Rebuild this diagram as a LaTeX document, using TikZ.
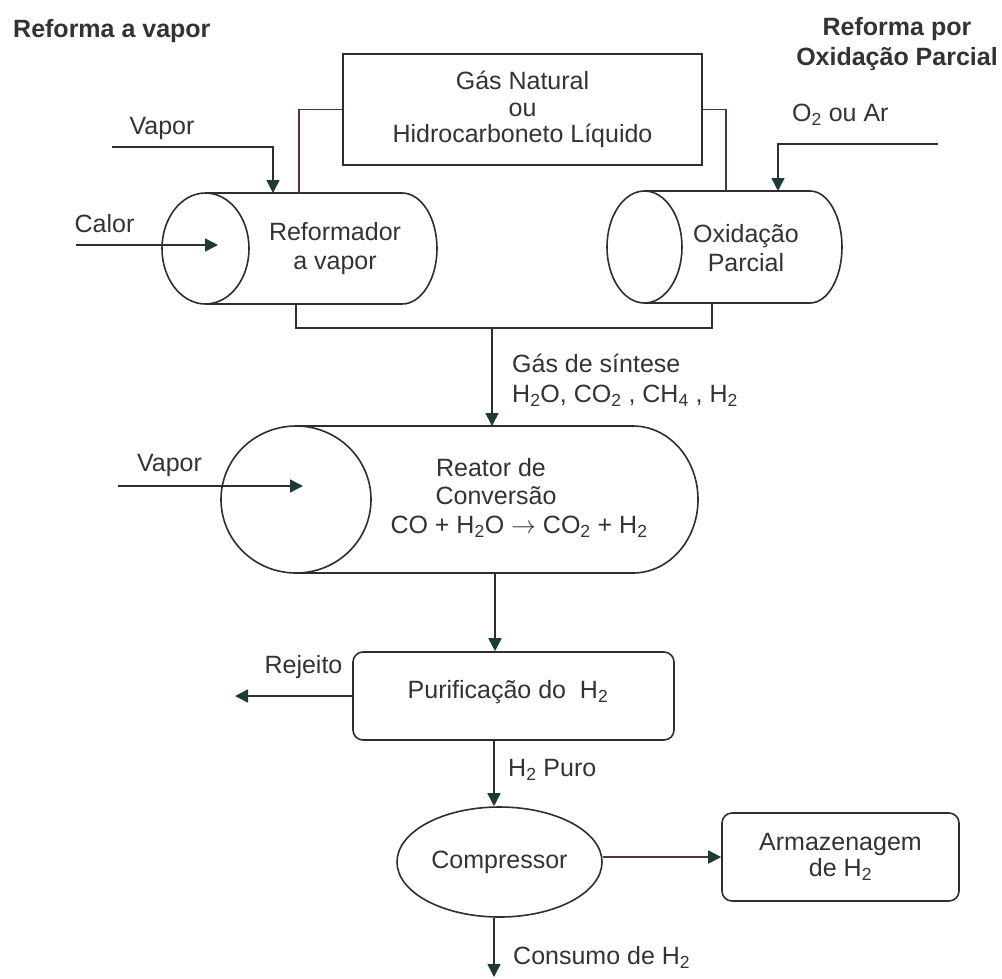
\documentclass[tikz,border=0pt]{standalone}
\usepackage{fontspec}
\setmainfont{Liberation Sans}
\usetikzlibrary{arrows.meta,shapes.geometric,calc}
\newcommand\myss[1]{\textsubscript{#1}}
\definecolor{tc}{HTML}{333333}
\definecolor{lc}{HTML}{2E2E2E}
\definecolor{ac}{HTML}{1F3A36}
\definecolor{rc}{HTML}{5A3432}
\begin{document}
\begin{tikzpicture}[x=1pt,y=-1pt,
  txt/.style={font=\fontsize{25}{28}\selectfont, text=tc, inner sep=0pt, align=center},
  ttl/.style={font=\bfseries\fontsize{25}{30}\selectfont, text=tc, inner sep=0pt, align=center},
  ln/.style={line width=1.6pt, draw=lc},
  arr/.style={ln, -{Triangle[length=13pt,width=13pt,color=ac]}},
  rbox/.style={ln, rounded corners=10pt, fill=white, inner sep=0pt},
]
\useasboundingbox (0,0) rectangle (1002,978);

% titles
\node[ttl, anchor=mid west] (t1) at (13,35) {Reforma a vapor};
\node[ttl] (t2) at (897,44) {Reforma por\\Oxidação Parcial};

% feed box
\node[ln, rectangle, minimum width=359pt, minimum height=111pt, txt,
      font=\fontsize{25}{26.5}\selectfont] (gas) at (522.5,109.5)
      {Gás Natural\\ou\\Hidrocarboneto Líquido};

% left cylinder (steam reformer)
\coordinate (rf) at (205.5,248.5);
\draw[ln, fill=white] (205.5,193) -- (402,193)
  arc[start angle=90, end angle=-90, x radius=35pt, y radius=55.5pt] -- (205.5,304);
\draw[ln] (rf) ellipse [x radius=43.5pt, y radius=55.5pt];
\node[txt, font=\fontsize{25}{29}\selectfont] (rft) at (335,249) {Reformador\\a vapor};
\coordinate (rfin) at (299,193);
\coordinate (rfv) at (273,193);
\coordinate (rfout) at (296,304);

% right cylinder (partial oxidation)
\coordinate (ox) at (644.5,247);
\draw[ln, fill=white] (644.5,191) -- (810,191)
  arc[start angle=90, end angle=-90, x radius=32pt, y radius=56pt] -- (644.5,303);
\draw[ln] (ox) ellipse [x radius=37.5pt, y radius=56pt];
\node[txt, font=\fontsize{25}{29}\selectfont] (oxt) at (746,248) {Oxidação\\Parcial};
\coordinate (oxin) at (726,191);
\coordinate (oxo) at (778,191);
\coordinate (oxout) at (712,303);

% reactor
\coordinate (rc) at (296,499.5);
\draw[ln, fill=white] (296,426) -- (633,426)
  arc[start angle=90, end angle=-90, x radius=65pt, y radius=73.5pt] -- (296,573);
\draw[ln] (rc) ellipse [x radius=75pt, y radius=73.5pt];
\node[txt] (rt1) at (491,468) {Reator de};
\node[txt] (rt2) at (496,496) {Conversão};
\node[txt] (rt3) at (519,527) {CO + H\myss{2}O $\rightarrow$ CO\myss{2} + H\myss{2}};
\coordinate (rcin) at (492,426);
\coordinate (rcout) at (495,573);

% purification, compressor, storage
\node[rbox, minimum width=321pt, minimum height=88pt] (pur) at (513.5,696) {};
\node[txt, anchor=mid] (purt) at (508,696) {Purificação do~ H\myss{2}};
\node[ln, ellipse, minimum width=205pt, minimum height=110pt, inner sep=0pt, txt] (comp) at (499.5,862) {Compressor};
\node[rbox, minimum width=237pt, minimum height=88pt, txt,
      font=\fontsize{25}{26}\selectfont] (arm) at (840.5,857) {Armazenagem\\de H\myss{2}};

% labels
\node[txt] (vap1) at (162,128) {Vapor};
\node[txt] (cal) at (104.5,224) {Calor};
\node[txt, anchor=mid west] (o2) at (792,119) {O\myss{2} ou Ar};
\node[txt, anchor=mid west] (gs1) at (512,370) {Gás de síntese};
\node[txt, anchor=mid west] (gs2) at (512,400) {H\myss{2}O, CO\myss{2} , CH\myss{4} , H\myss{2}};
\node[txt] (vap2) at (169.5,465) {Vapor};
\node[txt] (rej) at (303.5,667) {Rejeito};
\node[txt, anchor=mid west] (h2p) at (508,774) {H\myss{2} Puro};
\node[txt, anchor=mid west] (cons) at (513,962) {Consumo de H\myss{2}};

% coordinates for free ends
\coordinate (vs) at (112,147);
\coordinate (cs) at (76,245);
\coordinate (ce) at (218,245);
\coordinate (os) at (938,144);
\coordinate (jl) at (296,328);
\coordinate (jr) at (712,328);
\coordinate (js) at (492,328);
\coordinate (vs2) at (118,486);
\coordinate (ve2) at (303,486);
\coordinate (rejend) at (235,696);
\coordinate (ax) at (494,0);
\coordinate (cend) at (494,977);

% connectors
\draw[ln, draw=rc] (gas.west) -| (rfin);
\draw[ln, draw=rc] (gas.east) -| (oxin);
\draw[arr] (vs) -| (rfv);
\draw[arr] (cs) -- (ce);
\draw[arr] (os) -| (oxo);
\draw[ln] (rfout) -- (jl) -- (jr) -- (oxout);
\draw[arr] (js) -- (rcin);
\draw[arr] (vs2) -- (ve2);
\draw[arr] (rcout) -- (rcout |- pur.north);
\draw[arr] (pur.west) -- (rejend);
\draw[arr] (pur.south -| ax) -- (comp.north -| ax);
\draw[arr, draw=rc] (comp.east |- arm.west) -- (arm.west);
\draw[arr] (comp.south -| ax) -- (cend);
\end{tikzpicture}
\end{document}
